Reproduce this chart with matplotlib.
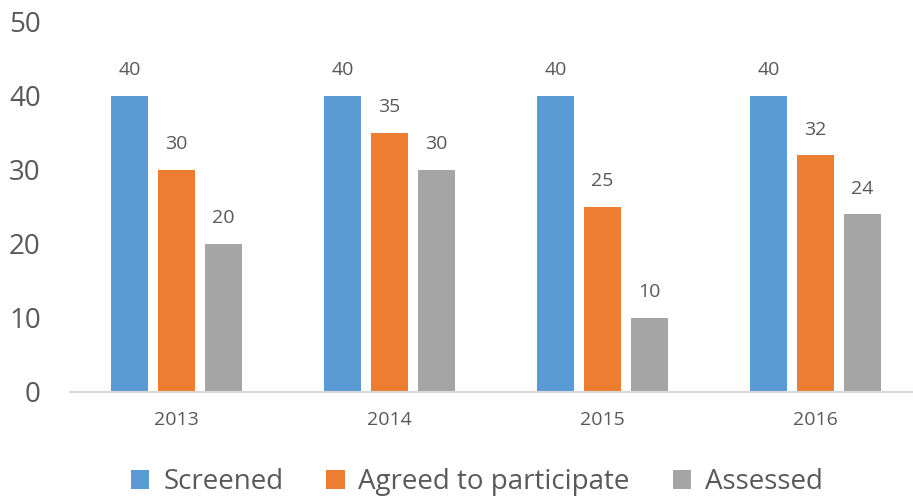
import numpy as np
import matplotlib
matplotlib.use("Agg")
import matplotlib.pyplot as plt

years = ["2013", "2014", "2015", "2016"]
screened = [40, 40, 40, 40]
agreed = [30, 35, 25, 32]
assessed = [20, 30, 10, 24]

series = [("Screened", screened, "#5B9BD5"),
          ("Agreed to participate", agreed, "#ED7D31"),
          ("Assessed", assessed, "#A5A5A5")]

plt.rcParams['font.family'] = ['Open Sans', 'DejaVu Sans']
txt = "#595959"

fig = plt.figure(figsize=(9.13, 5.0), dpi=100)
ax = fig.add_axes([70 / 913, 1 - 392 / 500, 852 / 913, 370 / 500])

x = np.arange(len(years))
step = 0.2207
width = 0.174
for i, (name, vals, col) in enumerate(series):
    pos = x + (i - 1) * step
    bars = ax.bar(pos, vals, width, color=col, label=name)
    for b, v in zip(bars, vals):
        ax.annotate(str(v), (b.get_x() + b.get_width() / 2, v),
                    xytext=(0, 18.5), textcoords="offset points",
                    ha="center", va="center", fontsize=14, color=txt)

ax.set_xlim(-0.5, 3.5)
ax.set_ylim(0, 50)
ax.set_yticks([0, 10, 20, 30, 40, 50])
ax.set_xticks(x)
ax.set_xticklabels(years)
ax.tick_params(axis="y", length=0, pad=21, labelsize=20, labelcolor=txt)
ax.tick_params(axis="x", length=0, pad=14, labelsize=14, labelcolor=txt)
for s in ["top", "right", "left"]:
    ax.spines[s].set_visible(False)
ax.spines["bottom"].set_color("#D9D9D9")
ax.spines["bottom"].set_linewidth(1.5)

fig.legend(loc="center", bbox_to_anchor=(477 / 913, 1 - 482 / 500), ncol=3,
           frameon=False, fontsize=20, labelcolor=txt, handlelength=0.65,
           handleheight=0.65, handletextpad=0.5, columnspacing=1.55)

fig.savefig("out.png", dpi=100)
